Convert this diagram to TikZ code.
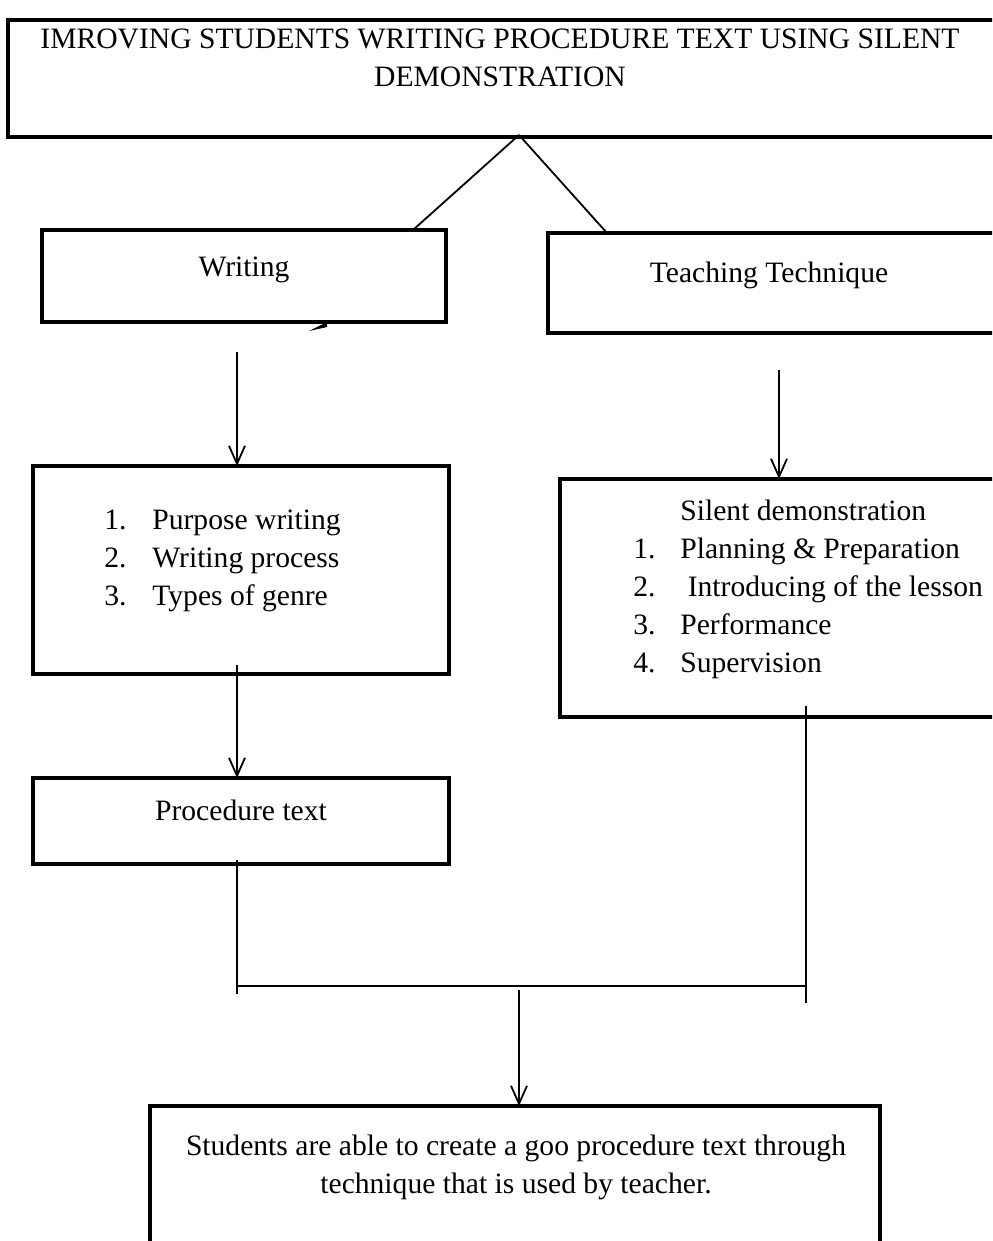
\documentclass[tikz,border=0pt]{standalone}
\usepackage{fontspec}
\setmainfont{Liberation Serif}
\usepackage{tikz}
\usetikzlibrary{calc,arrows.meta}

\begin{document}
\begin{tikzpicture}[x=0.5pt,y=-0.5pt,
    box/.style={draw,line width=2.4pt,anchor=north west,inner sep=0pt,outer sep=0pt},
    txt/.style={anchor=base,inner sep=0pt,align=center,font=\fontsize{14.8}{19}\selectfont},
    lst/.style={anchor=base west,inner sep=0pt,align=left,font=\fontsize{14.8}{19}\selectfont},
    conn/.style={line width=0.9pt},
    arr/.style={conn,-{Straight Barb[length=9pt,width=8pt,line width=0.9pt]}}]

    % Define the page frame
    \useasboundingbox (0,0) rectangle (992,1241);
    \clip (0,0) rectangle (992,1241);

    % title box (base anchor sits on the last line)
    \node[box,minimum width=494pt,minimum height=58.5pt] (title) at (8,20) {};
    \node[txt] (titletxt) at (500,87) {IMROVING STUDENTS WRITING PROCEDURE TEXT USING SILENT\\DEMONSTRATION};

    % the two branches
    \node[box,minimum width=202pt,minimum height=46pt] (writing) at (42,230) {};
    \node[txt] (writingtxt) at (244,277) {Writing};
    \fill (309,331) -- (327,322) -- (327,327) -- cycle;

    \node[box,minimum width=230pt,minimum height=50pt] (teaching) at (548,233) {};
    \node[txt] (teachingtxt) at (769,282) {Teaching Technique};

    \coordinate (apex) at (519,135);
    \draw[conn] (apex) -- (writing.north -| 413,0);
    \draw[conn] (apex) -- (teaching.north -| 607,0);

    % writing side
    \node[box,minimum width=208pt,minimum height=104pt] (aspects) at (33,466) {};
    \node[lst] (aspectstxt) at (104,605) {\makebox[24pt][l]{1.}Purpose writing\\
        \makebox[24pt][l]{2.}Writing process\\
        \makebox[24pt][l]{3.}Types of genre};

    \node[box,minimum width=208pt,minimum height=43pt] (procedure) at (33,778) {};
    \node[txt] (proceduretxt) at (241,820) {Procedure text};

    \coordinate (wa) at (237,352);
    \draw[arr] (wa) -- (wa |- aspects.north);
    \coordinate (wb) at (237,665);
    \draw[arr] (wb) -- (wb |- procedure.north);

    % technique side
    \node[box,minimum width=225pt,minimum height=119pt] (silent) at (560,479) {};
    \node[lst] (silenttxt) at (633,672) {\makebox[23.5pt][l]{}Silent demonstration\\
        \makebox[23.5pt][l]{1.}Planning \& Preparation\\
        \makebox[23.5pt][l]{2.}\ Introducing of the lesson\\
        \makebox[23.5pt][l]{3.}Performance\\
        \makebox[23.5pt][l]{4.}Supervision};

    \coordinate (ta) at (779,370);
    \draw[arr] (ta) -- (ta |- silent.north);

    % joining both sides
    \coordinate (jl) at (237,860);
    \coordinate (jr) at (806,706);
    \coordinate (jm) at (519,990);
    \draw[conn] (jl) -- (237,994);
    \draw[conn] (jr) -- (806,1003);
    \draw[conn] (jl |- 0,986) -- (jr |- 0,986);

    % result
    \node[box,minimum width=365pt,minimum height=100pt] (result) at (150,1106) {};
    \node[txt] (resulttxt) at (516,1193) {Students are able to create a goo procedure text through\\technique that is used by teacher.};
    \draw[arr] (jm) -- (jm |- result.north);

\end{tikzpicture}
\end{document}
